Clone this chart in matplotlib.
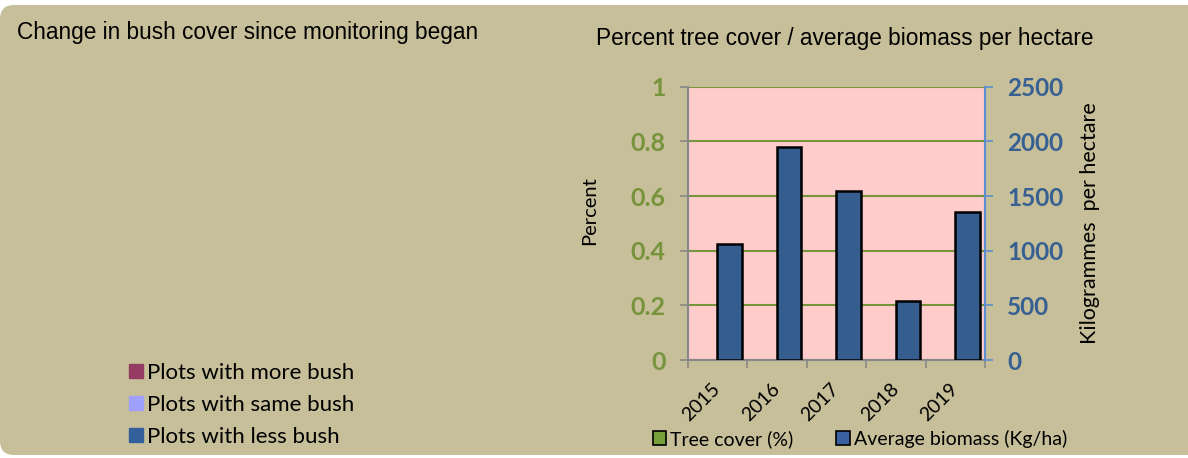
import numpy as np
import matplotlib.pyplot as plt
from matplotlib.patches import Rectangle, FancyBboxPatch
from matplotlib.lines import Line2D

years = ["2015", "2016", "2017", "2018", "2019"]
tree_cover = [0, 0, 0, 0, 0]
biomass = [1064, 1951, 1546, 540, 1357]
bush_labels = ["Plots with more bush", "Plots with same bush", "Plots with less bush"]
bush_colors = ["#963C64", "#A0A0FF", "#33609A"]

bg = "#C6BF99"
green = "#77933C"
blue = "#376092"
W, H = 1188, 458

fig = plt.figure(figsize=(11.88, 4.58), dpi=100)
fig.patch.set_facecolor("white")
# rounded chart area (runs off the right edge like the original)
fig.patches.append(FancyBboxPatch((0, 3 / H), 1.02, 450 / H, boxstyle="round,pad=0,rounding_size=0.012",
                                  transform=fig.transFigure, facecolor=bg, edgecolor="none",
                                  mutation_aspect=W / H, zorder=-10))

# left panel (empty pie, only title + legend)
fig.text(17 / W, 1 - 33 / H, "Change in bush cover since monitoring began",
         fontsize=16.3, family="Liberation Sans", va="center", ha="left")
handles = [Line2D([], [], marker="s", color=c, linestyle="none", markersize=10) for c in bush_colors]
fig.legend(handles, bush_labels, loc="center left", bbox_to_anchor=(120 / W, 1 - 405 / H),
           frameon=False, prop={"family": "Lato", "size": 16}, handlelength=0.6,
           handletextpad=0.2, labelspacing=0.55, borderaxespad=0)

# right panel
ax = fig.add_axes([687.7 / W, 1 - 360 / H, (985 - 687.7) / W, (360 - 86.7) / H])
ax.set_facecolor("#FFCCCC")
x = np.arange(len(years))
w = 0.41
ax.bar(x, tree_cover, width=-w, align="edge", color="#77A03C", linewidth=0)
ax.set_ylim(0, 1)
ax.set_xlim(-0.5, len(years) - 0.5)
ax.set_yticks([0, 0.2, 0.4, 0.6, 0.8, 1])
ax.set_yticklabels(["0", "0.2", "0.4", "0.6", "0.8", "1"])
ax.tick_params(axis="y", colors="#888888", labelcolor=green, labelsize=18, length=6, width=1.2, pad=10)
for t in ax.get_yticklabels():
    t.set_fontweight("bold")
    t.set_family("Lato")
# year labels on major ticks, category dividers on minor ticks
ax.set_xticks(x)
ax.set_xticklabels(years, rotation=45, family="Lato", fontsize=14,
                   ha="right", va="center", rotation_mode="anchor")
ax.tick_params(axis="x", which="major", length=0, pad=19)
ax.set_xticks(np.arange(-0.5, len(years), 1), minor=True)
ax.tick_params(axis="x", which="minor", colors="#888888", length=6, width=1.2)
ax.yaxis.grid(True, color=green, linewidth=1.5)
ax.set_axisbelow(True)
for s in ["left", "bottom"]:
    ax.spines[s].set_color("#888888")
    ax.spines[s].set_linewidth(1.5)
ax.spines["top"].set_visible(False)
ax.spines["right"].set_visible(False)
ax.set_ylabel("Percent", family="Lato", fontsize=14.5)
ax.yaxis.set_label_coords(-0.30, 0.545)

ax2 = ax.twinx()
ax2.bar(x, biomass, width=w, align="edge", color="#355E8F", edgecolor="black", linewidth=1.8)
ax2.set_ylim(0, 2500)
ax2.set_yticks([0, 500, 1000, 1500, 2000, 2500])
ax2.tick_params(axis="y", colors="#5B8ED0", labelcolor=blue, labelsize=17.5, length=6, width=1.2, pad=10)
for t in ax2.get_yticklabels():
    t.set_fontweight("bold")
    t.set_family("Lato")
for s in ["left", "bottom", "top"]:
    ax2.spines[s].set_visible(False)
ax2.spines["right"].set_color("#5B8ED0")
ax2.spines["right"].set_linewidth(1.5)
ax2.set_ylabel("Kilogrammes  per hectare", family="Lato", fontsize=15.5, labelpad=12)

fig.text(845 / W, 1 - 38 / H, "Percent tree cover / average biomass per hectare",
         fontsize=16.3, family="Liberation Sans", va="center", ha="center")

leg_handles = [Rectangle((0, 0), 1, 1, facecolor="#77A03C", edgecolor="black", linewidth=1.2),
               Rectangle((0, 0), 1, 1, facecolor="#3A62A0", edgecolor="black", linewidth=1.2)]
fig.legend(leg_handles, ["Tree cover (%)", "Average biomass (Kg/ha)"], loc="center",
           bbox_to_anchor=(860 / W, 1 - 439 / H), ncol=2, frameon=False,
           prop={"family": "Lato", "size": 14}, handlelength=0.7, handleheight=0.7,
           handletextpad=0.2, columnspacing=2.2, borderaxespad=0)

fig.savefig("out.png", dpi=100, facecolor="white")
